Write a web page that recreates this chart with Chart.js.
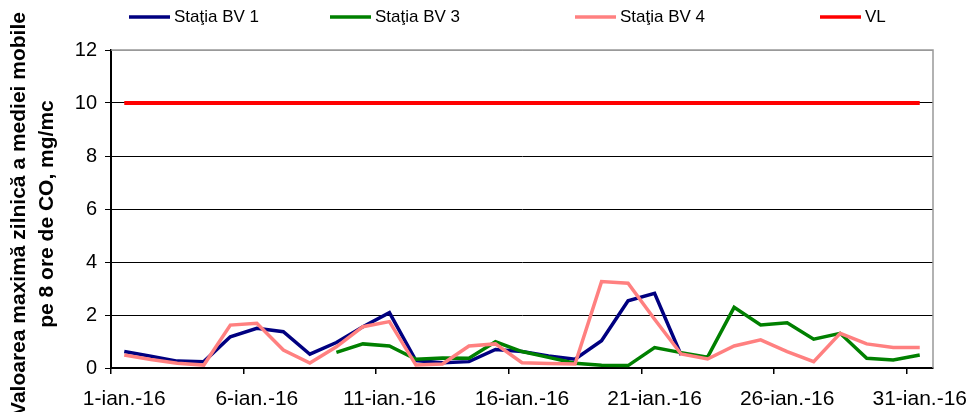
<!DOCTYPE html>
<html>
<head>
<meta charset="utf-8">
<script src="https://cdn.jsdelivr.net/npm/chart.js@4/dist/chart.umd.min.js"></script>
<style>
  body { margin: 0; background: #fff; }
  canvas { display: block; }
</style>
</head>
<body>
<canvas id="js--chart--co" width="968" height="412"></canvas>
<script>
const days = [
    "1-ian.-16", "2-ian.-16", "3-ian.-16", "4-ian.-16", "5-ian.-16",
    "6-ian.-16", "7-ian.-16", "8-ian.-16", "9-ian.-16", "10-ian.-16",
    "11-ian.-16", "12-ian.-16", "13-ian.-16", "14-ian.-16", "15-ian.-16",
    "16-ian.-16", "17-ian.-16", "18-ian.-16", "19-ian.-16", "20-ian.-16",
    "21-ian.-16", "22-ian.-16", "23-ian.-16", "24-ian.-16", "25-ian.-16",
    "26-ian.-16", "27-ian.-16", "28-ian.-16", "29-ian.-16", "30-ian.-16",
    "31-ian.-16"
];

const bv1 = [0.62, 0.44, 0.26, 0.24, 1.18, 1.50, 1.37, 0.52, 0.96, 1.56,
    2.09, 0.28, 0.20, 0.24, 0.70, 0.62, 0.45, 0.33, 1.03, 2.54,
    2.82, 0.49, null, null, null, null, null, null, null, null, null];

const bv3 = [null, null, null, null, null, null, null, null, 0.59, 0.91,
    0.83, 0.33, 0.38, 0.37, 0.99, 0.62, 0.40, 0.18, 0.10, 0.09,
    0.77, 0.58, 0.41, 2.29, 1.62, 1.71, 1.09, 1.31, 0.37, 0.30, 0.49];

const bv4 = [0.49, 0.32, 0.18, 0.11, 1.62, 1.69, 0.68, 0.19, 0.80, 1.56,
    1.75, 0.11, 0.15, 0.83, 0.91, 0.20, 0.17, 0.15, 3.26, 3.20,
    1.84, 0.53, 0.34, 0.83, 1.06, 0.62, 0.24, 1.31, 0.91, 0.77, 0.77];

// valoarea limita
const vl = [10, 10, 10, 10, 10, 10, 10, 10, 10, 10,
    10, 10, 10, 10, 10, 10, 10, 10, 10, 10,
    10, 10, 10, 10, 10, 10, 10, 10, 10, 10, 10];

const yTicks = [0, 2, 4, 6, 8, 10, 12];

const yTitle = ["Valoarea maximă zilnică a mediei mobile", "pe 8 ore de CO, mg/mc"];

const FONT = "Arial, 'Liberation Sans', sans-serif";

function line(label, values, color, width, order) {
    return {
        label: label,
        data: values,
        borderColor: color,
        backgroundColor: color,
        borderWidth: width,
        pointRadius: 0,
        tension: 0,
        spanGaps: false,
        order: order
    };
}

const data = {
    labels: days,
    datasets: [
        line("Staţia BV 1", bv1, "#000080", 3.5, 4),
        line("Staţia BV 3", bv3, "#008000", 3.5, 3),
        line("Staţia BV 4", bv4, "#FF8080", 3.5, 2),
        line("VL", vl, "#FF0000", 4, 1)
    ]
};

// legenda desenata manual, ca in Excel (coloane fixe)
const legendX = [129, 330, 575, 820];
const legendPlugin = {
    id: "excelLegend",
    afterDraw(chart) {
        const ctx = chart.ctx;
        ctx.save();
        ctx.font = "17px " + FONT;
        ctx.textBaseline = "middle";
        chart.data.datasets.forEach((ds, i) => {
            const x = legendX[i];
            const y = 17;
            ctx.strokeStyle = ds.borderColor;
            ctx.lineWidth = 3.5;
            ctx.beginPath();
            ctx.moveTo(x, y);
            ctx.lineTo(x + 41, y);
            ctx.stroke();
            ctx.fillStyle = "#000";
            ctx.fillText(ds.label, x + 45, y);
        });
        ctx.restore();
    }
};

const framePlugin = {
    id: "frame",
    beforeDatasetsDraw(chart) {
        const a = chart.chartArea;
        const ctx = chart.ctx;
        ctx.save();
        ctx.strokeStyle = "#999";
        ctx.lineWidth = 1.5;
        ctx.beginPath();
        ctx.moveTo(a.left, a.top);
        ctx.lineTo(a.right, a.top);
        ctx.lineTo(a.right, a.bottom);
        ctx.stroke();
        ctx.restore();
    },
    afterDraw(chart) {
        const ctx = chart.ctx;
        ctx.save();
        ctx.font = "bold 21px " + FONT;
        ctx.fillStyle = "#000";
        ctx.textAlign = "center";
        ctx.textBaseline = "middle";
        ctx.translate(0, 214);
        ctx.rotate(-Math.PI / 2);
        ctx.fillText(yTitle[0], 0, 19);
        ctx.fillText(yTitle[1], 0, 47);
        ctx.restore();
    }
};

const config = {
    type: "line",
    data: data,
    plugins: [legendPlugin, framePlugin],
    options: {
        responsive: false,
        animation: false,
        devicePixelRatio: 1,
        layout: { padding: { top: 50, right: 35, left: 0, bottom: 0 } },
        plugins: {
            legend: { display: false },
            tooltip: { enabled: false }
        },
        scales: {
            x: {
                type: "category",
                offset: true,
                afterFit(scale) {
                    scale.height = 44;
                    scale.paddingLeft = 0;
                    scale.paddingRight = 0;
                },
                border: { color: "#000", width: 2 },
                grid: {
                    offset: true,
                    drawOnChartArea: false,
                    drawTicks: true,
                    tickLength: 6,
                    color: (c) => (c.index % 5 === 0 ? "#000" : "rgba(0,0,0,0)"),
                    lineWidth: 1.5
                },
                ticks: {
                    autoSkip: false,
                    maxRotation: 0,
                    padding: 13,
                    color: "#000",
                    font: { family: FONT, size: 21 },
                    callback: function (v, i) { return i % 5 === 0 ? days[i] : ""; }
                }
            },
            y: {
                min: 0,
                max: 12,
                afterFit(scale) {
                    scale.width = 111;
                    scale.paddingTop = 0;
                    scale.paddingBottom = 0;
                },
                afterBuildTicks(scale) { scale.ticks = yTicks.map(v => ({ value: v })); },
                border: { color: "#000", width: 2 },
                grid: {
                    color: (c) => (c.tick && c.tick.value === 12 ? "#999" : "#000"),
                    tickColor: "#000",
                    lineWidth: 1,
                    tickLength: 6
                },
                ticks: {
                    padding: 8,
                    color: "#000",
                    font: { family: FONT, size: 20 }
                }
            }
        }
    }
};

new Chart(document.getElementById("js--chart--co"), config);
</script>
</body>
</html>
